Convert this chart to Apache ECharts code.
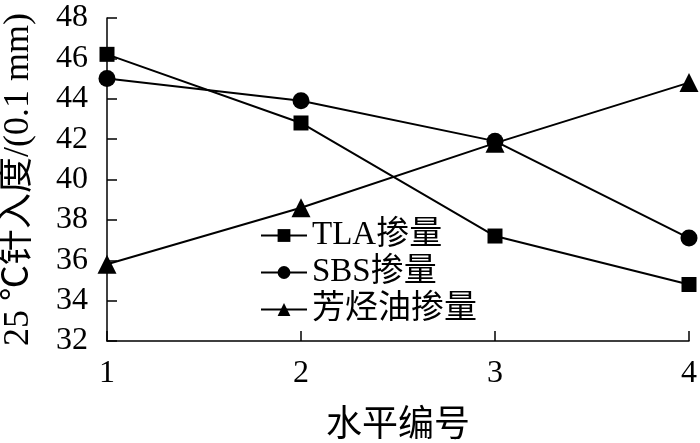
<!DOCTYPE html>
<html><head><meta charset="utf-8">
<script src="https://cdn.jsdelivr.net/npm/echarts@6/dist/echarts.min.js"></script>
<style>html,body{margin:0;padding:0;background:#fff}#c{width:700px;height:443px}</style>
</head><body><div id="c"></div>
<script>
const categories = ['1', '2', '3', '4'];
const tlaValues = [46.2, 42.8, 37.2, 34.8];
const sbsValues = [45.0, 43.9, 41.9, 37.1];
const oilValues = [35.8, 38.6, 41.8, 44.8];
const seriesNames = ['TLA掺量', 'SBS掺量', '芳烃油掺量'];
const xName = '水平编号';
const yName = '25 ℃针入度/(0.1 mm)';

const font = '"Liberation Serif", "Noto Sans CJK SC", serif';
const chart = echarts.init(document.getElementById('c'), null, {renderer: 'canvas'});
function mk(name, data, symbol, size) {
  return {
    name, type: 'line', data, symbol, symbolSize: size,
    lineStyle: {color: '#000', width: 2},
    itemStyle: {color: '#000'},
    animation: false
  };
}
chart.setOption({
  backgroundColor: '#fff',
  animation: false,
  grid: {left: 107, right: 11, top: 18, bottom: 102, containLabel: false, outerBoundsMode: 'none'},
  legend: {
    orient: 'vertical', left: 255, top: 214,
    itemWidth: 46, itemHeight: 16, itemGap: 4,
    textStyle: {fontFamily: font, fontSize: 33, color: '#000'},
    data: seriesNames
  },
  xAxis: {
    type: 'category', data: categories, boundaryGap: false,
    name: xName, nameLocation: 'middle', nameGap: 68,
    nameTextStyle: {fontFamily: font, fontSize: 36, color: '#000'},
    axisLine: {lineStyle: {color: '#000', width: 1.5}},
    axisTick: {inside: true, length: 10, lineStyle: {color: '#000', width: 1.5}},
    axisLabel: {fontFamily: font, fontSize: 32, color: '#000', margin: 17}
  },
  yAxis: {
    type: 'value', min: 32, max: 48, interval: 2,
    name: yName, nameLocation: 'middle', nameGap: 70,
    nameTextStyle: {fontFamily: font, fontSize: 36, color: '#000'},
    splitLine: {show: false},
    axisLine: {show: true, lineStyle: {color: '#000', width: 1.5}},
    axisTick: {show: true, inside: true, length: 10, lineStyle: {color: '#000', width: 1.5}},
    axisLabel: {fontFamily: font, fontSize: 32, color: '#000', margin: 19}
  },
  series: [
    mk(seriesNames[0], tlaValues, 'rect', 15),
    mk(seriesNames[1], sbsValues, 'circle', 17),
    mk(seriesNames[2], oilValues, 'triangle', 19)
  ]
});
</script></body></html>
